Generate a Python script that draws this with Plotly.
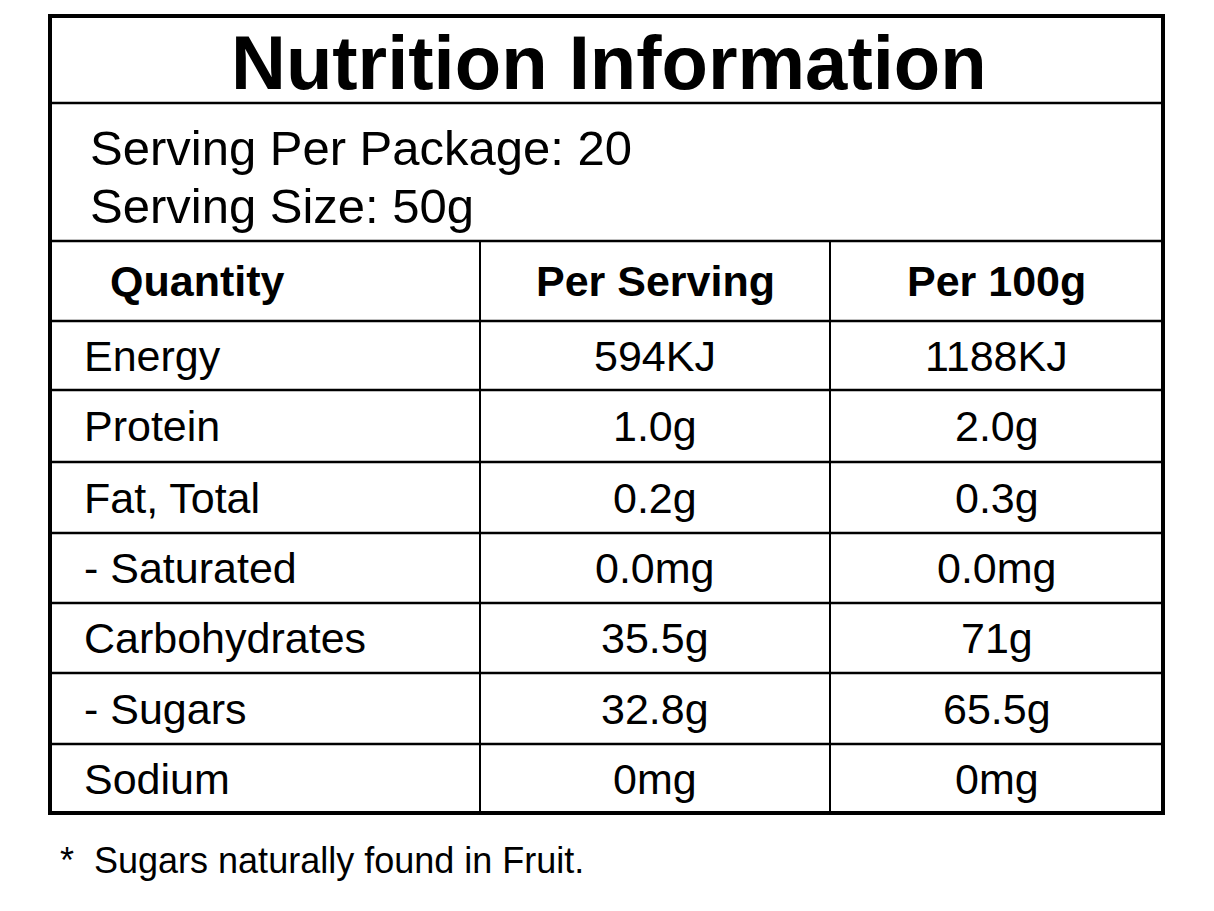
import plotly.graph_objects as go

title = "Nutrition Information"
serving_lines = ["Serving Per Package: 20", "Serving Size: 50g"]
headers = ["Quantity", "Per Serving", "Per 100g"]
nutrients = ["Energy", "Protein", "Fat, Total", "- Saturated", "Carbohydrates", "- Sugars", "Sodium"]
per_serving = ["594KJ", "1.0g", "0.2g", "0.0mg", "35.5g", "32.8g", "0mg"]
per_100g = ["1188KJ", "2.0g", "0.3g", "0.0mg", "71g", "65.5g", "0mg"]
footnote = "*  Sugars naturally found in Fruit."

W, H = 1214, 911
OFF = 8  # page body margin
left, right, top, bottom = 50, 1163, 16, 813
col_x = [480, 830]
title_bottom = 103
serving_bottom = 241
header_bottom = 321
row_bottoms = [390, 462, 533, 603, 673, 744, 813]

font = "Liberation Sans, Arial, sans-serif"
fig = go.Figure()
shapes = []

def hline(y, w=2):
    shapes.append(dict(type="line", x0=left, x1=right, y0=y, y1=y, xref="x", yref="y",
                       line=dict(color="black", width=w)))

for y in [title_bottom, serving_bottom, header_bottom] + row_bottoms[:-1]:
    hline(y, 2.5)
for x in col_x:
    shapes.append(dict(type="line", x0=x, x1=x, y0=serving_bottom, y1=bottom, xref="x", yref="y",
                       line=dict(color="black", width=2)))
shapes.append(dict(type="rect", x0=left, x1=right, y0=top, y1=bottom, xref="x", yref="y",
                   line=dict(color="black", width=4)))

ann = []
def text(x, y, s, size, bold=False, anchor="left"):
    ann.append(dict(x=x, y=y, xref="x", yref="y", text=f"<b>{s}</b>" if bold else s,
                    showarrow=False, xanchor=anchor, yanchor="middle",
                    font=dict(family=font, size=size, color="black")))

text((left + right) / 2 + 2, 62, title, 76, bold=True, anchor="center")
text(88, 148, serving_lines[0], 49)
text(88, 206, serving_lines[1], 49)

hy = (serving_bottom + header_bottom) / 2
text(108, hy, headers[0], 43, bold=True)
text((col_x[0] + col_x[1]) / 2, hy, headers[1], 43, bold=True, anchor="center")
text((col_x[1] + right) / 2, hy, headers[2], 43, bold=True, anchor="center")

prev = header_bottom
for name, a, b, rb in zip(nutrients, per_serving, per_100g, row_bottoms):
    y = (prev + rb) / 2
    text(82, y, name, 43)
    text((col_x[0] + col_x[1]) / 2, y, a, 43, anchor="center")
    text((col_x[1] + right) / 2, y, b, 43, anchor="center")
    prev = rb

text(58, 860, footnote, 36)

fig.update_layout(width=W, height=H, margin=dict(l=0, r=0, t=0, b=0),
                  plot_bgcolor="white", paper_bgcolor="white",
                  shapes=shapes, annotations=ann, showlegend=False,
                  xaxis=dict(range=[OFF, W + OFF], visible=False, fixedrange=True),
                  yaxis=dict(range=[H + OFF, OFF], visible=False, fixedrange=True))
fig.write_html("out.html")
